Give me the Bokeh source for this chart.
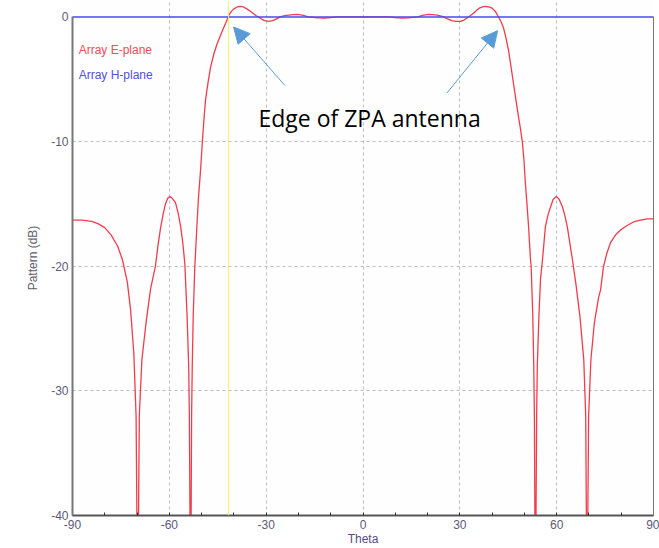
from bokeh.plotting import figure
from bokeh.models import Range1d, LinearAxis, FixedTicker, Span, Label, Arrow, NormalHead
from bokeh.embed import file_html
from bokeh.resources import INLINE

# E-plane pattern (theta in degrees, pattern in dB)
theta_e = [-90, -87, -84, -82, -80, -78, -76, -74.5, -73, -72, -71, -70.3, -69.8, -69.3,
           -68.5, -67.2, -65.8, -64.3, -63.5, -62.7, -61.9, -61.2, -60.5, -59.8, -59.1, -58.1,
           -57.3, -56.5, -55.8, -55.2, -54.5,
           -54.0, -53.8, -53.4, -53.1, -52.9, -52.6, -52.1, -51.5, -51.0, -50.3, -49.8,
           -49.3, -48.8, -48.0, -47.2, -46.2, -45.2, -44.1, -43.1, -42.3, -41.6, -40.8, -40.0,
           -39.0, -38.0, -37.0, -36.0, -35.0, -34.0, -33.2, -32.4, -31.4, -30.5,
           -29.3, -28.0, -26.8, -25.6, -24.3, -23.0, -21.6, -20.3, -18.5, -16.9, -14.0, -12.0,
           -10.0, -8.0,
           0.0, 8.0, 10.0, 12.0, 14.0, 16.9, 18.5, 20.2, 21.6, 23.0, 24.0, 24.9, 26.2, 27.5,
           28.8, 30.2, 31.3, 32.7, 33.6, 34.5, 35.3, 36.0, 37.0, 37.9, 39.0, 40.0, 41.0, 42.0,
           42.8, 43.5, 44.3, 45.1, 45.8, 46.6, 47.4, 48.2, 48.8, 49.4, 49.9, 50.3, 50.8,
           51.3, 51.9, 52.1, 52.6, 52.9, 53.1, 53.4, 53.8, 54.0, 54.5, 55.0, 55.6, 56.5,
           57.3, 58.1, 58.9, 59.9, 60.8, 61.8, 62.5, 63.3, 64.9, 66.0, 67.2, 68.4, 69.0, 69.4,
           69.9, 70.6, 71.7, 73.0, 73.6, 74.5, 75.5, 76.7, 78.2, 79.8, 81.7, 83.8, 86.0, 88.1, 90.0]
db_e = [-16.3, -16.3, -16.4, -16.6, -16.9, -17.5, -18.4, -19.5, -21.3, -23.5, -27.0, -32.0,
        -48.0, -32.0, -27.5, -24.5, -21.8, -20.0, -18.3, -16.9, -15.8, -15.0, -14.55, -14.4,
        -14.55, -14.9, -15.7, -16.8, -18.2, -19.8, -24.0,
        -28.0, -32.0, -48.0, -32.0, -28.0, -24.0, -20.0, -17.0, -14.6, -12.2, -10.15,
        -8.3, -6.7, -5.25, -4.0, -2.95, -2.15, -1.45, -0.82, -0.35, 0.12, 0.45, 0.65,
        0.8, 0.84, 0.8, 0.65, 0.48, 0.28, 0.12, 0.0, -0.17, -0.3,
        -0.36, -0.3, -0.16, 0.0, 0.1, 0.15, 0.19, 0.2, 0.12, 0.0, -0.08, -0.1,
        -0.05, 0.0,
        0.0, 0.0, -0.05, -0.1, -0.08, 0.0, 0.12, 0.2, 0.19, 0.15, 0.08, 0.0, -0.16, -0.3,
        -0.35, -0.36, -0.25, 0.0, 0.18, 0.35, 0.55, 0.7, 0.8, 0.84, 0.8, 0.7, 0.45, 0.0,
        -0.4, -0.84, -1.7, -2.7, -3.9, -5.3, -6.7, -8.05, -9.0, -10.1, -11.6, -13.3, -15.0,
        -16.85, -19.5, -20.0, -24.0, -28.0, -32.0, -48.0, -32.0, -28.0, -24.0, -21.0, -19.5, -16.85,
        -15.9, -15.25, -14.65, -14.4, -14.65, -15.25, -15.9, -16.85, -19.5, -21.5, -24.0, -27.5,
        -32.0, -48.0,
        -32.0, -27.5, -24.5, -22.5, -21.9, -20.05, -19.0, -18.1, -17.5, -17.1, -16.75, -16.45,
        -16.3, -16.2, -16.2]

# H-plane pattern
theta_h = [-90, 90]
db_h = [0.0, 0.0]

x_ticks = [-90, -60, -30, 0, 30, 60, 90]
x_minor = [-80, -70, -50, -40, -20, -10, 10, 20, 40, 50, 70, 80]
y_ticks = [0, -10, -20, -30, -40]
edge_theta = -41.7

label_font = "Liberation Sans"
tick_color = "#5c5a78"

p = figure(width=659, height=548, output_backend="svg", toolbar_location=None,
           x_range=Range1d(-90, 90), y_range=Range1d(-40, 1.32),
           min_border_left=72, min_border_right=6, min_border_top=0, min_border_bottom=32,
           x_axis_label="Theta", y_axis_label="Pattern (dB)")
p.outline_line_color = None
p.background_fill_color = "#fefefe"

# axes
xa = p.xaxis[0]
xa.ticker = FixedTicker(ticks=x_ticks, minor_ticks=x_minor)
xa.major_label_overrides = {t: str(t) for t in x_ticks}
xa.axis_line_color = "#555555"
xa.axis_line_width = 2
xa.major_tick_in = 3
xa.major_tick_out = 0
xa.minor_tick_in = 3
xa.minor_tick_out = 0
xa.major_tick_line_color = "#333333"
xa.minor_tick_line_color = "#333333"
xa.major_label_text_font = label_font
xa.major_label_text_font_size = "12px"
xa.major_label_text_color = tick_color
xa.major_label_standoff = 4
xa.axis_label_text_font = label_font
xa.axis_label_text_font_size = "12px"
xa.axis_label_text_font_style = "normal"
xa.axis_label_text_color = "#5a4a86"
xa.axis_label_standoff = 0

ya = p.yaxis[0]
ya.ticker = FixedTicker(ticks=y_ticks)
ya.major_label_overrides = {t: str(t) for t in y_ticks}
ya.bounds = (-40, 0)
ya.axis_line_color = "#777777"
ya.axis_line_width = 2
ya.major_tick_in = 0
ya.major_tick_out = 0
ya.minor_tick_line_color = None
ya.major_label_text_font = label_font
ya.major_label_text_font_size = "12px"
ya.major_label_text_color = tick_color
ya.major_label_standoff = 4
ya.axis_label_text_font = label_font
ya.axis_label_text_font_size = "12px"
ya.axis_label_text_font_style = "normal"
ya.axis_label_text_color = "#5c5c6c"
ya.axis_label_standoff = 8

ra = LinearAxis(ticker=FixedTicker(ticks=[]), bounds=(-40, 0),
                axis_line_color="#777777", axis_line_width=1,
                major_label_text_font_size="0px", major_tick_in=0, major_tick_out=0,
                minor_tick_line_color=None)
p.add_layout(ra, "right")

for g in (p.xgrid[0], p.ygrid[0]):
    g.grid_line_color = "#bdbdbd"
    g.grid_line_dash = "3 3"
    g.grid_line_width = 1
p.xgrid[0].ticker = FixedTicker(ticks=[-60, -30, 0, 30, 60])
p.ygrid[0].ticker = FixedTicker(ticks=[-10, -20, -30])

# edge marker
p.add_layout(Span(location=edge_theta, dimension="height", line_color="#f8f060", line_width=1))

# curves
p.line(theta_e, db_e, line_color="#f03c4c", line_width=1.3)
p.line(theta_h, db_h, line_color="#4848f0", line_width=1.6)

# legend texts
p.add_layout(Label(x=-88.1, y=-2.68, text="Array E-plane", text_font=label_font,
                   text_font_size="12px", text_color="#f04a5a", text_baseline="middle"))
p.add_layout(Label(x=-88.1, y=-4.68, text="Array H-plane", text_font=label_font,
                   text_font_size="12px", text_color="#5050e0", text_baseline="middle"))

# annotation
p.add_layout(Label(x=-32.4, y=-8.13, text="Edge of ZPA antenna", text_font="Open Sans",
                   text_font_size="23px", text_color="#000000", text_baseline="middle"))
arrow_col = "#5b9bd5"
p.add_layout(Arrow(x_start=-24.2, y_start=-5.5, x_end=-40.1, y_end=-0.8,
                   line_color=arrow_col, line_width=1,
                   end=NormalHead(size=16, fill_color=arrow_col, line_color=arrow_col)))
p.add_layout(Arrow(x_start=26.0, y_start=-6.1, x_end=41.7, y_end=-1.1,
                   line_color=arrow_col, line_width=1,
                   end=NormalHead(size=16, fill_color=arrow_col, line_color=arrow_col)))

open("out.html", "w").write(file_html(p, INLINE))
